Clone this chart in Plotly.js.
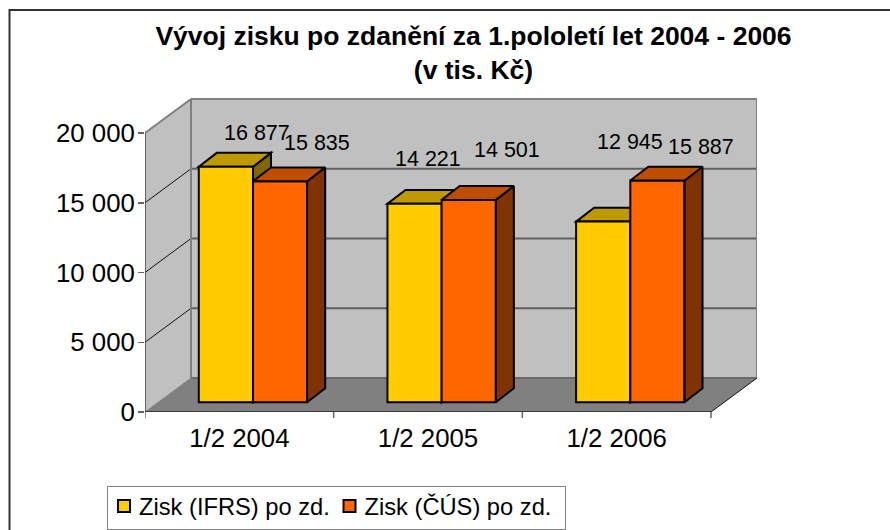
<!DOCTYPE html>
<html><head><meta charset="utf-8">
<script src="https://cdn.plot.ly/plotly-3.0.1.min.js"></script>
<style>html,body{margin:0;padding:0;background:#fff}#c{width:890px;height:530px}</style>
</head><body><div id="c"></div>
<script>
const categories = ['1/2 2004','1/2 2005','1/2 2006'];
const seriesNames = ['Zisk (IFRS) po zd.','Zisk (ČÚS) po zd.'];
const ifrs = [16877,14221,12945];
const cus = [15835,14501,15887];
const yTicks = [0,5000,10000,15000,20000];
const yTickText = ['0','5 000','10 000','15 000','20 000'];
const ifrsLabelShift = [[31,-34],[13,-45],[27,-80]];
const cusLabelShift = [[37,-38],[38,-50],[44,-34]];

const W=890,H=530,L=145,R=757,T=98,B=412;
const catPx=(711-145)/3, valPx=279/20000;
const X=p=>p/catPx, Y=p=>p/valPx;
const wallDX=X(46), wallDY=Y(34);
const barDX=X(18), barDY=Y(13.9);
const barBase=Y(9.8), barW=X(54.2), barC=0.5724;
const xMax=(R-L)/catPx, yMax=(B-T)/valPx;
const poly=pts=>'M'+pts.map(p=>p[0]+','+p[1]).join('L')+'Z';
const shapes=[];
const add=(pts,fill,color,width,layer)=>shapes.push({type:'path',xref:'x',yref:'y',path:poly(pts),fillcolor:fill,line:{color:color||'rgba(0,0,0,0)',width:width||0},layer:layer||'below'});
const seg=(x0,y0,x1,y1,color,width)=>shapes.push({type:'line',xref:'x',yref:'y',x0,y0,x1,y1,line:{color,width},layer:'below'});
const wallTop=20000;
// walls and floor
add([[0,0],[wallDX,wallDY],[3+wallDX,wallDY],[3,0]],'#808080');
add([[wallDX,wallDY],[wallDX,wallTop+wallDY],[3+wallDX,wallTop+wallDY],[3+wallDX,wallDY]],'#C0C0C0');
add([[0,0],[0,wallTop],[wallDX,wallTop+wallDY],[wallDX,wallDY]],'#C0C0C0');
yTicks.slice(1,-1).forEach(v=>{
  seg(wallDX,v+wallDY,3+wallDX,v+wallDY,'#606060',2);
  seg(0,v,wallDX,v+wallDY,'#111111',1);
});
seg(wallDX,wallDY,3+wallDX,wallDY,'#6a6a6a',2);
seg(wallDX,wallDY,wallDX,wallTop+wallDY,'#808080',2);
seg(wallDX,wallTop+wallDY,3+wallDX,wallTop+wallDY,'#808080',2);
seg(3+wallDX,wallDY,3+wallDX,wallTop+wallDY,'#808080',2);
seg(0,wallTop,wallDX,wallTop+wallDY,'#808080',2);
seg(0,0,wallDX,wallDY,'#808080',1);
seg(0,0,0,wallTop,'#444444',1.5);
seg(0,0,3,0,'#222222',1.5);
seg(3,0,3+wallDX,wallDY,'#111111',1);
[0,1,2,3].forEach(i=>shapes.push({type:'line',xref:'x',yref:'paper',x0:i,x1:i,y0:0,y1:-6/(B-T),line:{color:'#666666',width:1.5},layer:'below'}));
// chart frame
const px=v=>(v-L)/(R-L), py=v=>(B-v)/(B-T);
shapes.push({type:'path',xref:'paper',yref:'paper',path:`M${px(9.5)},${py(530)}L${px(9.5)},${py(10)}L${px(890)},${py(10)}`,line:{color:'#333333',width:2},layer:'below'});

function face(i,s,v){
  const x0=i+barC+(s===0?-barW:0), x1=x0+barW, y0=barBase, y1=barBase+v;
  return {
    side:[[x1,y0],[x1+barDX,y0+barDY],[x1+barDX,y1+barDY],[x1,y1]],
    lid:[[x0,y1],[x0+barDX,y1+barDY],[x1+barDX,y1+barDY],[x1,y1]],
    cx:(x0+x1)/2, y1
  };
}
// yellow depth faces lie behind every front face
ifrs.forEach((v,i)=>{const f=face(i,0,v);add(f.side,'#806600','#000',2);add(f.lid,'#BF9900','#000',2);});

const traces=[
 {type:'bar',name:seriesNames[0],x:categories.map((c,i)=>i+barC-barW/2),y:ifrs,base:ifrs.map(()=>barBase),width:barW,
  marker:{color:'#FFCC00',line:{color:'#000',width:2}},hoverinfo:'skip'},
 {type:'bar',name:seriesNames[1],x:categories.map((c,i)=>i+barC+barW/2),y:cus,base:cus.map(()=>barBase),width:barW,
  marker:{color:'#FF6600',line:{color:'#000',width:2}},hoverinfo:'skip'}
];
const tracePoly=(pts,fill)=>({type:'scatter',mode:'lines',x:pts.concat([pts[0]]).map(p=>p[0]),y:pts.concat([pts[0]]).map(p=>p[1]),fill:'toself',fillcolor:fill,line:{color:'#000',width:2},showlegend:false,hoverinfo:'skip'});
cus.forEach((v,i)=>{const f=face(i,1,v);traces.push(tracePoly(f.side,'#803300'));traces.push(tracePoly(f.lid,'#BF4D00'));});

const annotations=[];
const label=(vals,s,shift)=>vals.forEach((v,i)=>{const f=face(i,s,v);
 annotations.push({xref:'x',yref:'y',x:f.cx,y:f.y1,text:String(v).replace(/(\d{3})$/,' $1'),showarrow:false,xanchor:'center',yanchor:'middle',xshift:shift[i][0],yshift:-shift[i][1],font:{size:21.5,color:'#000'}});});
label(ifrs,0,ifrsLabelShift);label(cus,1,cusLabelShift);

Plotly.newPlot('c',traces,{
 width:W,height:H,autosize:false,paper_bgcolor:'#fff',plot_bgcolor:'rgba(0,0,0,0)',
 font:{family:'"Liberation Sans",Arial,sans-serif',color:'#000'},
 margin:{l:L,r:W-R,t:T,b:H-B,pad:0,autoexpand:false},
 title:{text:'Vývoj zisku po zdanění za 1.pololetí let 2004 - 2006<br>(v tis. Kč)',x:473.5/W,xanchor:'center',y:1-45/H,yanchor:'middle',font:{size:26.5,family:'"Liberation Sans",Arial,sans-serif',weight:700}},
 barmode:'overlay',showlegend:true,
 legend:{orientation:'h',x:px(107),y:py(486),xanchor:'left',yanchor:'top',bordercolor:'#808080',borderwidth:1,bgcolor:'#fff',font:{size:23.7},traceorder:'normal',itemclick:false,itemdoubleclick:false},
 xaxis:{type:'linear',range:[0,xMax],tickmode:'array',tickvals:[0.5,1.5,2.5],ticktext:categories,ticks:'',showgrid:false,zeroline:false,showline:false,tickfont:{size:25.8},ticklabelstandoff:8,fixedrange:true},
 yaxis:{type:'linear',range:[0,yMax],tickmode:'array',tickvals:yTicks,ticktext:yTickText,ticks:'outside',ticklen:6,tickwidth:1.5,tickcolor:'#666666',showgrid:false,zeroline:false,showline:false,tickfont:{size:25.8},ticklabelstandoff:-2,fixedrange:true},
 shapes,annotations
},{displayModeBar:false,staticPlot:true}).then(()=>{
  // fit Plotly's own legend to the reference box
  const lg=document.querySelector('.legend');
  const bg=lg.querySelector('.bg');
  bg.setAttribute('width',458);bg.setAttribute('height',43);
  const sb=lg.querySelector('.scrollbox');sb.removeAttribute('clip-path');
  const itemX=[-3,222.5];
  lg.querySelectorAll('.traces').forEach((t,i)=>{
    t.setAttribute('transform',`translate(${itemX[i]},20)`);
    const tx=t.querySelector('.legendtext');tx.setAttribute('x',35);
    tx.querySelectorAll('tspan').forEach(s=>{if(s.getAttribute('x'))s.setAttribute('x',35);});
    const b=t.querySelector('path.legendbar');
    if(b){b.setAttribute('d','M7.5,7.5H-7.5V-7.5H7.5Z');}
  });
});
</script></body></html>
